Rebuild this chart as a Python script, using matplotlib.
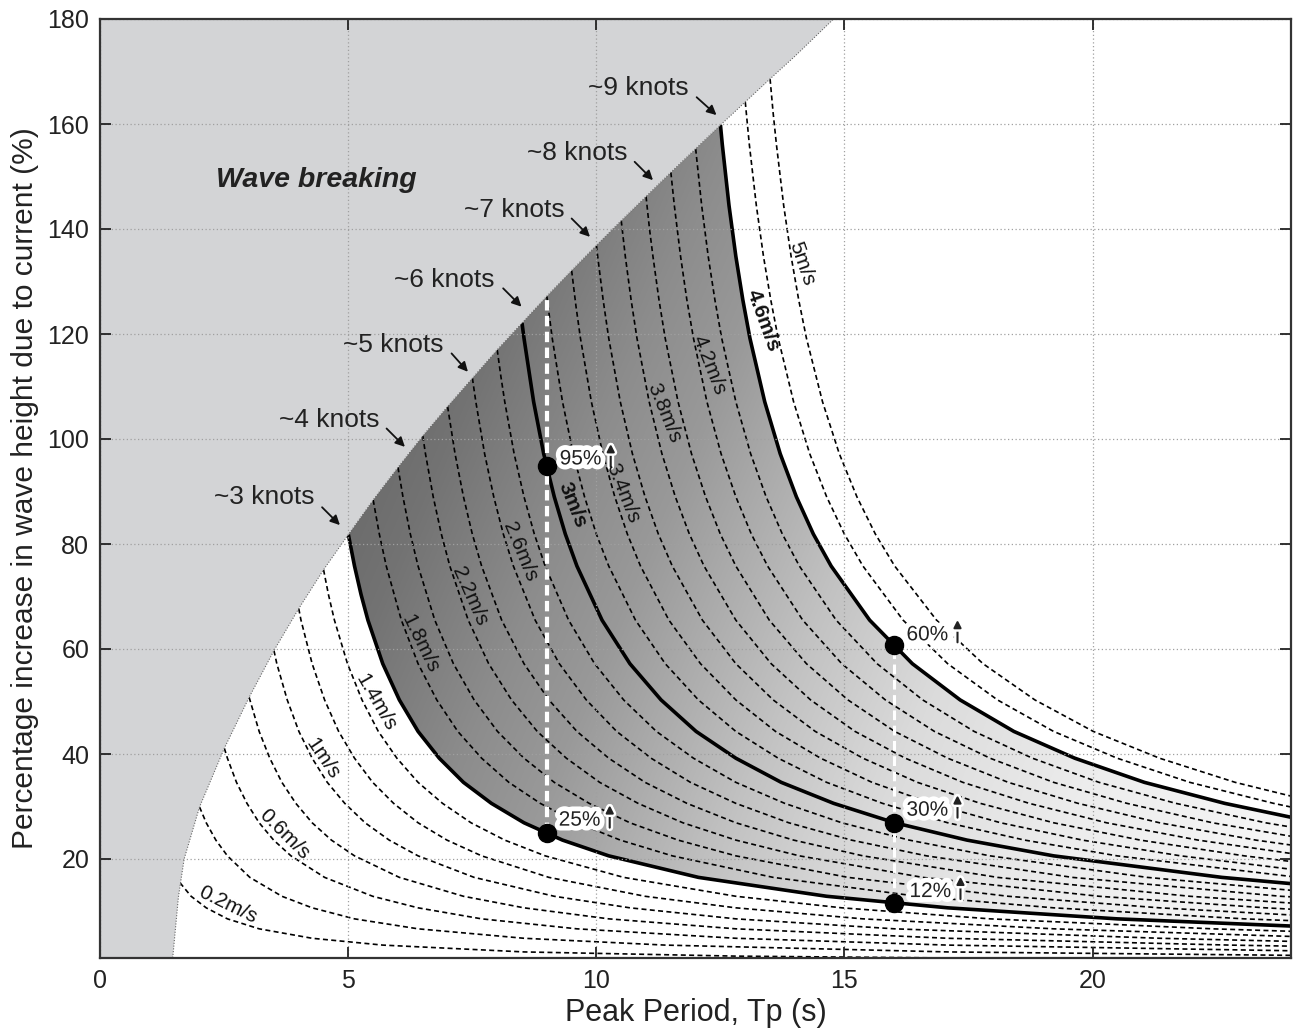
import numpy as np
import matplotlib
matplotlib.use('Agg')
import matplotlib.pyplot as plt
from matplotlib.patches import Polygon
import matplotlib.patheffects as pe

plt.rcParams['font.family'] = ['Liberation Sans', 'DejaVu Sans']

# ---------------- data ----------------
# current speed curves (m/s): peak period (s) and % increase in wave height
t_02 = [1.5, 1.830, 2.135, 2.562, 3.202, 4.270, 5.693, 8.540, 12.810, 17.080, 24]
h_02 = [16.7, 12.9, 10.7, 8.6, 6.7, 4.9, 3.6, 2.3, 1.5, 1.15, 0.81]
t_04 = [2.0, 2.135, 2.329, 2.562, 3.014, 3.660, 4.270, 5.124, 6.405, 8.540, 11.386, 17.080, 24]
h_04 = [29.9, 26.9, 23.6, 20.6, 16.5, 12.9, 10.7, 8.6, 6.7, 4.9, 3.6, 2.3, 1.65]
t_06 = [2.5, 2.562, 2.745, 2.956, 3.202, 3.494, 3.843, 4.521, 5.490, 6.405, 7.686, 9.607, 12.810, 17.080, 24]
h_06 = [41.1, 39.2, 34.6, 30.6, 26.9, 23.6, 20.6, 16.5, 12.9, 10.7, 8.6, 6.7, 4.9, 3.6, 2.52]
t_08 = [3.0, 3.202, 3.416, 3.660, 3.941, 4.270, 4.658, 5.124, 6.028, 7.320, 8.540, 10.248, 12.810, 17.080, 22.773, 24]
h_08 = [50.8, 44.3, 39.2, 34.6, 30.6, 26.9, 23.6, 20.6, 16.5, 12.9, 10.7, 8.6, 6.7, 4.9, 3.6, 3.40]
t_10 = [3.5, 3.558, 3.768, 4.003, 4.270, 4.575, 4.927, 5.337, 5.823, 6.405, 7.535, 9.150, 10.675, 12.810, 16.012, 21.350, 24]
h_10 = [59.7, 57.2, 50.3, 44.3, 39.2, 34.6, 30.6, 26.9, 23.6, 20.6, 16.5, 12.9, 10.7, 8.6, 6.7, 4.9, 4.31]
t_12 = [4.0, 4.045, 4.270, 4.521, 4.804, 5.124, 5.490, 5.912, 6.405, 6.987, 7.686, 9.042, 10.980, 12.810, 15.372, 19.215, 24]
h_12 = [67.7, 65.5, 57.2, 50.3, 44.3, 39.2, 34.6, 30.6, 26.9, 23.6, 20.6, 16.5, 12.9, 10.7, 8.6, 6.7, 5.25]
t_14 = [4.5, 4.598, 4.719, 4.982, 5.275, 5.604, 5.978, 6.405, 6.898, 7.472, 8.152, 8.967, 10.549, 12.810, 14.945, 17.934, 22.417, 24]
h_14 = [75.1, 70.4, 65.5, 57.2, 50.3, 44.3, 39.2, 34.6, 30.6, 26.9, 23.6, 20.6, 16.5, 12.9, 10.7, 8.6, 6.7, 6.23]
t_16 = [5.0, 5.124, 5.255, 5.394, 5.693, 6.028, 6.405, 6.832, 7.320, 7.883, 8.540, 9.316, 10.248, 12.056, 14.640, 17.080, 20.496, 24]
h_16 = [81.8, 75.8, 70.4, 65.5, 57.2, 50.3, 44.3, 39.2, 34.6, 30.6, 26.9, 23.6, 20.6, 16.5, 12.9, 10.7, 8.6, 7.23]
t_18 = [5.5, 5.624, 5.764, 6.068, 6.405, 6.782, 7.206, 7.686, 8.235, 8.868, 9.607, 10.481, 11.529, 13.563, 16.470, 19.215, 23.058, 24]
h_18 = [88.4, 81.9, 75.8, 65.5, 57.2, 50.3, 44.3, 39.2, 34.6, 30.6, 26.9, 23.6, 20.6, 16.5, 12.9, 10.7, 8.6, 8.26]
t_20 = [6.0, 6.100, 6.249, 6.405, 6.742, 7.117, 7.535, 8.006, 8.540, 9.150, 9.854, 10.675, 11.645, 12.810, 15.070, 18.300, 21.350, 24]
h_20 = [94.6, 89.0, 81.9, 75.8, 65.5, 57.2, 50.3, 44.3, 39.2, 34.6, 30.6, 26.9, 23.6, 20.6, 16.5, 12.9, 10.7, 9.34]
t_22 = [6.5, 6.554, 6.710, 6.874, 7.045, 7.416, 7.828, 8.289, 8.807, 9.394, 10.065, 10.839, 11.742, 12.810, 14.091, 16.577, 20.130, 23.485, 24]
h_22 = [100.6, 97.2, 89.0, 81.9, 75.8, 65.5, 57.2, 50.3, 44.3, 39.2, 34.6, 30.6, 26.9, 23.6, 20.6, 16.5, 12.9, 10.7, 10.44]
t_24 = [7.0, 7.150, 7.320, 7.498, 7.686, 8.090, 8.540, 9.042, 9.607, 10.248, 10.980, 11.824, 12.810, 13.974, 15.372, 18.084, 21.960, 24]
h_24 = [106.2, 97.2, 89.0, 81.9, 75.8, 65.5, 57.2, 50.3, 44.3, 39.2, 34.6, 30.6, 26.9, 23.6, 20.6, 16.5, 12.9, 11.61]
t_26 = [7.5, 7.569, 7.746, 7.930, 8.123, 8.326, 8.765, 9.252, 9.796, 10.408, 11.102, 11.895, 12.810, 13.877, 15.139, 16.653, 19.592, 23.790, 24]
h_26 = [111.6, 107.1, 97.2, 89.0, 81.9, 75.8, 65.5, 57.2, 50.3, 44.3, 39.2, 34.6, 30.6, 26.9, 23.6, 20.6, 16.5, 12.9, 12.79]
t_28 = [8.0, 8.076, 8.152, 8.341, 8.540, 8.748, 8.967, 9.439, 9.963, 10.549, 11.209, 11.956, 12.810, 13.795, 14.945, 16.303, 17.934, 21.099, 24]
h_28 = [117.0, 111.8, 107.1, 97.2, 89.0, 81.9, 75.8, 65.5, 57.2, 50.3, 44.3, 39.2, 34.6, 30.6, 26.9, 23.6, 20.6, 16.5, 14.04]
t_30 = [8.5, 8.540, 8.734, 8.937, 9.150, 9.373, 9.607, 10.113, 10.675, 11.303, 12.009, 12.810, 13.725, 14.781, 16.012, 17.468, 19.215, 22.606, 24]
h_30 = [122.1, 119.2, 107.1, 97.2, 89.0, 81.9, 75.8, 65.5, 57.2, 50.3, 44.3, 39.2, 34.6, 30.6, 26.9, 23.6, 20.6, 16.5, 15.31]
t_32 = [9.0, 9.109, 9.316, 9.533, 9.760, 9.998, 10.248, 10.787, 11.387, 12.056, 12.810, 13.664, 14.640, 15.766, 17.080, 18.632, 20.496, 24]
h_32 = [127.2, 119.2, 107.1, 97.2, 89.0, 81.9, 75.8, 65.5, 57.2, 50.3, 44.3, 39.2, 34.6, 30.6, 26.9, 23.6, 20.6, 16.67]
t_34 = [9.5, 9.589, 9.678, 9.898, 10.129, 10.370, 10.623, 10.888, 11.461, 12.098, 12.810, 13.610, 14.518, 15.555, 16.751, 18.147, 19.797, 21.777, 24]
h_34 = [132.1, 125.2, 119.2, 107.1, 97.2, 89.0, 81.9, 75.8, 65.5, 57.2, 50.3, 44.3, 39.2, 34.6, 30.6, 26.9, 23.6, 20.6, 18.05]
t_36 = [10.0, 10.025, 10.135, 10.248, 10.481, 10.725, 10.980, 11.248, 11.529, 12.136, 12.810, 13.563, 14.411, 15.372, 16.470, 17.737, 19.215, 20.962, 23.058, 24]
h_36 = [136.9, 134.8, 126.5, 119.2, 107.1, 97.2, 89.0, 81.9, 75.8, 65.5, 57.2, 50.3, 44.3, 39.2, 34.6, 30.6, 26.9, 23.6, 20.6, 19.53]
t_38 = [10.5, 10.582, 10.699, 10.817, 11.063, 11.320, 11.590, 11.873, 12.169, 12.810, 13.522, 14.317, 15.212, 16.226, 17.385, 18.722, 20.282, 22.126, 24]
h_38 = [141.6, 134.8, 126.5, 119.2, 107.1, 97.2, 89.0, 81.9, 75.8, 65.5, 57.2, 50.3, 44.3, 39.2, 34.6, 30.6, 26.9, 23.6, 21.05]
t_40 = [11.0, 11.070, 11.139, 11.261, 11.386, 11.645, 11.916, 12.200, 12.497, 12.810, 13.484, 14.233, 15.070, 16.012, 17.080, 18.300, 19.707, 21.350, 23.291, 24]
h_40 = [146.2, 140.0, 134.8, 126.5, 119.2, 107.1, 97.2, 89.0, 81.9, 75.8, 65.5, 57.2, 50.3, 44.3, 39.2, 34.6, 30.6, 26.9, 23.6, 22.66]
t_42 = [11.5, 11.570, 11.696, 11.823, 11.956, 12.227, 12.512, 12.810, 13.122, 13.450, 14.158, 14.945, 15.824, 16.813, 17.934, 19.215, 20.693, 22.417, 24]
h_42 = [150.8, 144.5, 134.8, 126.5, 119.2, 107.1, 97.2, 89.0, 81.9, 75.8, 65.5, 57.2, 50.3, 44.3, 39.2, 34.6, 30.6, 26.9, 24.33]
t_44 = [12.0, 12.121, 12.253, 12.388, 12.525, 12.810, 13.108, 13.420, 13.747, 14.091, 14.832, 15.657, 16.577, 17.613, 18.788, 20.130, 21.678, 23.485, 24]
h_44 = [155.3, 144.5, 134.8, 126.5, 119.2, 107.1, 97.2, 89.0, 81.9, 75.8, 65.5, 57.2, 50.3, 44.3, 39.2, 34.6, 30.6, 26.9, 26.09]
t_46 = [12.5, 12.537, 12.672, 12.810, 12.951, 13.094, 13.392, 13.704, 14.030, 14.372, 14.731, 15.507, 16.368, 17.331, 18.414, 19.642, 21.045, 22.664, 24]
h_46 = [159.8, 156.1, 144.5, 134.8, 126.5, 119.2, 107.1, 97.2, 89.0, 81.9, 75.8, 65.5, 57.2, 50.3, 44.3, 39.2, 34.6, 30.6, 27.95]
t_48 = [13.0, 13.082, 13.223, 13.367, 13.514, 13.664, 13.974, 14.299, 14.640, 14.997, 15.372, 16.181, 17.080, 18.084, 19.215, 20.496, 21.960, 23.649, 24]
h_48 = [164.2, 156.1, 144.5, 134.8, 126.5, 119.2, 107.1, 97.2, 89.0, 81.9, 75.8, 65.5, 57.2, 50.3, 44.3, 39.2, 34.6, 30.6, 29.90]
t_50 = [13.5, 13.563, 13.628, 13.774, 13.924, 14.077, 14.233, 14.557, 14.895, 15.250, 15.622, 16.012, 16.855, 17.792, 18.838, 20.015, 21.350, 22.875, 24]
h_50 = [168.6, 162.0, 156.1, 144.5, 134.8, 126.5, 119.2, 107.1, 97.2, 89.0, 81.9, 75.8, 65.5, 57.2, 50.3, 44.3, 39.2, 34.6, 31.98]

speeds = [0.2, 0.4, 0.6, 0.8, 1.0, 1.2, 1.4, 1.6, 1.8, 2.0, 2.2, 2.4, 2.6,
          2.8, 3.0, 3.2, 3.4, 3.6, 3.8, 4.0, 4.2, 4.4, 4.6, 4.8, 5.0]
curve_t = [t_02, t_04, t_06, t_08, t_10, t_12, t_14, t_16, t_18, t_20, t_22, t_24, t_26,
           t_28, t_30, t_32, t_34, t_36, t_38, t_40, t_42, t_44, t_46, t_48, t_50]
curve_h = [h_02, h_04, h_06, h_08, h_10, h_12, h_14, h_16, h_18, h_20, h_22, h_24, h_26,
           h_28, h_30, h_32, h_34, h_36, h_38, h_40, h_42, h_44, h_46, h_48, h_50]
bold_speeds = [1.6, 3.0, 4.6]

# wave-breaking limit
break_t = [1.46, 1.575, 1.69, 2.0, 2.5, 3.0, 3.5, 4.0, 4.5, 5.0, 5.5, 6.0, 6.5, 7.0, 7.5,
           8.0, 8.5, 9.0, 9.5, 10.0, 10.5, 11.0, 11.5, 12.0, 12.5, 13.0, 13.5, 14.0, 14.78]
break_h = [1.2, 12.8, 20.0, 29.9, 41.1, 50.8, 59.7, 67.7, 75.1, 81.8, 88.4, 94.6, 100.6,
           106.2, 111.6, 117.0, 122.1, 127.2, 132.1, 136.9, 141.6, 146.2, 150.8, 155.3,
           159.8, 164.2, 168.6, 172.9, 180.0]

# curve labels
label_text = ['0.2m/s', '0.6m/s', '1m/s', '1.4m/s', '1.8m/s', '2.2m/s', '2.6m/s', '3m/s',
              '3.4m/s', '3.8m/s', '4.2m/s', '4.6m/s', '5m/s']
label_t = [2.57, 3.71, 4.49, 5.55, 6.45, 7.45, 8.47, 9.52, 10.54, 11.36, 12.27, 13.36, 14.13]
label_h = [11.2, 24.8, 39.1, 49.8, 61.0, 70.0, 78.5, 87.4, 89.7, 105.0, 114.1, 122.6, 133.4]
label_rot = [-26, -45, -56, -60, -64, -66, -67.5, -68, -68.5, -68, -68.5, -70, -71]
label_bold = [False, False, False, False, False, False, False, True, False, False, False, True, False]

# knots annotations
knot_text = ['~3 knots', '~4 knots', '~5 knots', '~6 knots', '~7 knots', '~8 knots', '~9 knots']
knot_text_t = [3.31, 4.62, 5.90, 6.94, 8.34, 9.61, 10.85]
knot_text_h = [88.9, 103.7, 118.0, 130.3, 143.6, 154.4, 166.9]
knot_from_t = [4.47, 5.77, 7.08, 8.12, 9.50, 10.77, 12.02]
knot_from_h = [87.0, 102.0, 116.3, 128.7, 142.0, 152.8, 165.1]
knot_tip_t = [4.83, 6.14, 7.41, 8.49, 9.87, 11.14, 12.42]
knot_tip_h = [83.6, 98.5, 112.8, 125.2, 138.5, 149.3, 161.7]

# highlighted points
mark_t = [9, 9, 16, 16, 16]
mark_h = [94.8, 24.9, 60.7, 26.9, 11.7]
mark_text = ['95%', '25%', '60%', '30%', '12%']
mark_text_t = [9.26, 9.24, 16.25, 16.25, 16.31]
mark_text_h = [96.2, 27.4, 62.7, 29.3, 13.8]

x_ticks = [0, 5, 10, 15, 20]
y_ticks = [20, 40, 60, 80, 100, 120, 140, 160, 180]

# ---------------- figure ----------------
W, H = 1295, 1031
fig = plt.figure(figsize=(W / 100, H / 100), dpi=100)
L, R, T, B = 100.3, 1291.0, 19.0, 957.7
ax = fig.add_axes([L / W, 1 - B / H, (R - L) / W, (B - T) / H])
ax.set_xlim(0, 24)
ax.set_ylim(1.2, 180)
px_t = (R - L) / 24.0          # pixels per second
px_h = (B - T) / (180 - 1.2)   # pixels per percent

# shaded region between the 1.6 and 4.6 m/s curves
i16 = speeds.index(1.6)
i46 = speeds.index(4.6)
bt = np.array(break_t)
bh = np.array(break_h)
sel = (bt > 5.0) & (bt < 12.5)
poly_x = np.concatenate([curve_t[i16], curve_t[i46][::-1], bt[sel][::-1]])
poly_y = np.concatenate([curve_h[i16], curve_h[i46][::-1], bh[sel][::-1]])
shade = Polygon(np.column_stack([poly_x, poly_y]), closed=True, facecolor='none',
                edgecolor='none')
ax.add_patch(shade)
gx = np.linspace(4.5, 24, 500)
gy = np.linspace(0, 180, 400)
GX, GY = np.meshgrid(gx, gy)
U = GX + 0.045 * (100 - GY)
stops_u = [5, 7, 10, 12, 14, 16, 19, 23, 28]
stops_g = [0.41, 0.45, 0.55, 0.60, 0.68, 0.76, 0.86, 0.93, 0.97]
G = np.interp(U, stops_u, stops_g)
img = ax.imshow(np.dstack([G, G, G]), extent=[4.5, 24, 0, 180], origin='lower',
                aspect='auto', zorder=1, interpolation='bilinear')
img.set_clip_path(shade)

# current-speed curves
for sp, tt, hh in zip(speeds, curve_t, curve_h):
    if sp in bold_speeds:
        ax.plot(tt, hh, color='black', lw=2.6, zorder=2.1, solid_capstyle='butt')
    else:
        ax.plot(tt, hh, color='black', lw=1.2, ls=(0, (3, 2)), zorder=2)

# wave breaking region
brk_x = list(break_t) + [0, 0, 1.44]
brk_y = list(break_h) + [180, 0, 0]
ax.add_patch(Polygon(np.column_stack([brk_x, brk_y]), closed=True,
                     facecolor='#d3d4d6', edgecolor='none', zorder=2.3))
ax.plot(break_t, break_h, color='#666666', lw=0.8, ls=(0, (1, 1.5)), zorder=2.35)

# grid and axes styling
ax.set_axisbelow(False)
ax.set_xticks(x_ticks)
ax.set_yticks(y_ticks)
ax.grid(True, color='#a0a0a0', lw=0.9, ls=(0, (1, 2)))
ax.tick_params(direction='in', length=8, width=1.3, top=True, right=True,
               labelsize=18, colors='#222222', pad=8)
for s in ax.spines.values():
    s.set_linewidth(1.6)
    s.set_color('#333333')
    s.set_zorder(6)

ax.set_xlabel('Peak Period, Tp (s)', fontsize=22, color='#222222', labelpad=4)
ax.set_ylabel('Percentage increase in wave height due to current (%)', fontsize=21.5,
              color='#222222')
ax.yaxis.set_label_coords(-0.0515, 0.5)

# white dashed guide lines
ax.plot([9, 9], [mark_h[1], break_h[break_t.index(9.0)]], color='white', lw=3,
        ls=(0, (2.5, 1.3)), zorder=4)
ax.plot([16, 16], [mark_h[4], mark_h[2]], color='white', lw=2.2,
        ls=(0, (3.2, 1.8)), zorder=4)

# markers with percentage labels and up arrows
ax.plot(mark_t, mark_h, 'o', color='black', ms=13, zorder=5, ls='none')
halo = [pe.withStroke(linewidth=7, foreground='white')]
for txt, tx, ty in zip(mark_text, mark_text_t, mark_text_h):
    ax.text(tx, ty, txt, fontsize=15, ha='left', va='center', zorder=6,
            color='#222222', path_effects=halo)
    axx = tx + 51.0 / px_t
    arr = ax.annotate('', xy=(axx, ty + 15.0 / px_h), xytext=(axx, ty - 7.5 / px_h),
                      zorder=6, arrowprops=dict(arrowstyle='-|>', color='#222222',
                                                lw=1.5, mutation_scale=11,
                                                shrinkA=0, shrinkB=0))
    arr.arrow_patch.set_path_effects([pe.withStroke(linewidth=5, foreground='white')])

# curve labels
for txt, tx, ty, rot, bd in zip(label_text, label_t, label_h, label_rot, label_bold):
    ax.text(tx, ty, txt, fontsize=15, rotation=rot, rotation_mode='anchor',
            ha='center', va='center', zorder=6, color='#111111',
            fontweight='bold' if bd else 'normal')

# knots annotations
for txt, tx, ty, fx, fy, px, py in zip(knot_text, knot_text_t, knot_text_h,
                                       knot_from_t, knot_from_h, knot_tip_t, knot_tip_h):
    ax.text(tx, ty, txt, fontsize=19, ha='center', va='center', zorder=6, color='#222222')
    ax.annotate('', xy=(px, py), xytext=(fx, fy), zorder=6,
                arrowprops=dict(arrowstyle='-|>', color='#111111', lw=1.3,
                                mutation_scale=14, shrinkA=0, shrinkB=0))

ax.text(4.35, 149.3, 'Wave breaking', fontsize=20.5, fontweight='bold', fontstyle='italic',
        ha='center', va='center', zorder=6, color='#222222')

fig.savefig('out.png', dpi=100)
